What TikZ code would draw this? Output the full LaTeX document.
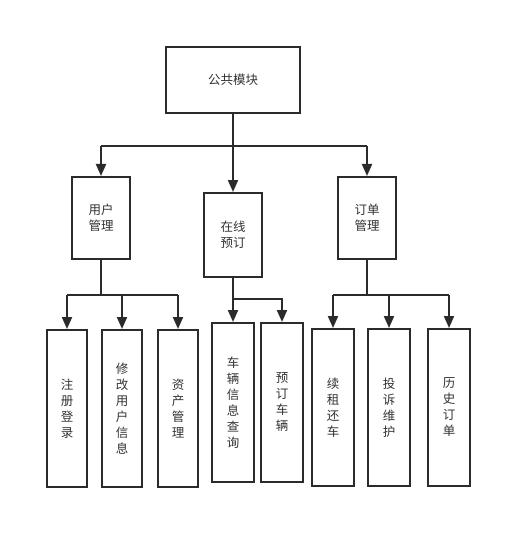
\documentclass[tikz,border=0pt]{standalone}
\usepackage{fontspec}
\newfontfamily\cjk{Noto Sans CJK SC}
\usetikzlibrary{arrows.meta}
\definecolor{linec}{HTML}{2B2B2B}
\definecolor{textc}{HTML}{333333}
\begin{document}
\begin{tikzpicture}[x=1pt,y=-1pt,
  box/.style={draw=linec, line width=2pt, fill=white, inner sep=0pt,
    font=\cjk\fontsize{12.5}{16}\selectfont, text=textc, align=center},
  link/.style={draw=linec, line width=2pt},
  arrow/.style={link, -{Triangle[length=12pt,width=10pt]}}]
  % canvas
  \fill[white] (0,0) rectangle (530,548);
  \useasboundingbox (0,0) rectangle (530,548);

  % top level
  \node[box, minimum width=134pt, minimum height=66pt] (top) at (233,80) {公共模块};

  % second level
  \node[box, minimum width=58pt, minimum height=82pt] (user) at (101,218) {用户\\管理};
  \node[box, minimum width=58pt, minimum height=84pt] (online) at (233,235) {在线\\预订};
  \node[box, minimum width=58pt, minimum height=82pt] (order) at (367,218) {订单\\管理};

  % third level: user management
  \node[box, minimum width=40pt, minimum height=157pt] (reg) at (67,408.5) {注\\册\\登\\录};
  \node[box, minimum width=40pt, minimum height=157pt] (edit) at (122,408.5) {修\\改\\用\\户\\信\\息};
  \node[box, minimum width=40pt, minimum height=157pt] (asset) at (178,408.5) {资\\产\\管\\理};

  % third level: online booking
  \node[box, minimum width=42pt, minimum height=159pt] (query) at (233,402.5) {车\\辆\\信\\息\\查\\询};
  \node[box, minimum width=42pt, minimum height=159pt] (book) at (282,402.5) {预\\订\\车\\辆};

  % third level: order management
  \node[box, minimum width=42pt, minimum height=157pt] (renew) at (333,407.5) {续\\租\\还\\车};
  \node[box, minimum width=42pt, minimum height=157pt] (complain) at (389,407.5) {投\\诉\\维\\护};
  \node[box, minimum width=42pt, minimum height=157pt] (history) at (449,407.5) {历\\史\\订\\单};

  % junction points
  \coordinate (j0) at (233,146);
  \coordinate (j1) at (101,295);
  \coordinate (j2) at (233,299);
  \coordinate (j3) at (367,295);

  % top -> second level
  \draw[link] (top.south) -- (j0);
  \draw[link] (user.north |- j0) -- (order.north |- j0);
  \draw[arrow] (user.north |- j0) -- (user.north);
  \draw[arrow] (j0) -- (online.north);
  \draw[arrow] (order.north |- j0) -- (order.north);

  % user management branch
  \draw[link] (user.south) -- (j1);
  \draw[link] (reg.north |- j1) -- (asset.north |- j1);
  \draw[arrow] (reg.north |- j1) -- (reg.north);
  \draw[arrow] (edit.north |- j1) -- (edit.north);
  \draw[arrow] (asset.north |- j1) -- (asset.north);

  % online booking branch
  \draw[arrow] (online.south) -- (query.north);
  \draw[arrow] (j2) -- (book.north |- j2) -- (book.north);

  % order management branch
  \draw[link] (order.south) -- (j3);
  \draw[link] (renew.north |- j3) -- (history.north |- j3);
  \draw[arrow] (renew.north |- j3) -- (renew.north);
  \draw[arrow] (complain.north |- j3) -- (complain.north);
  \draw[arrow] (history.north |- j3) -- (history.north);
\end{tikzpicture}
\end{document}
